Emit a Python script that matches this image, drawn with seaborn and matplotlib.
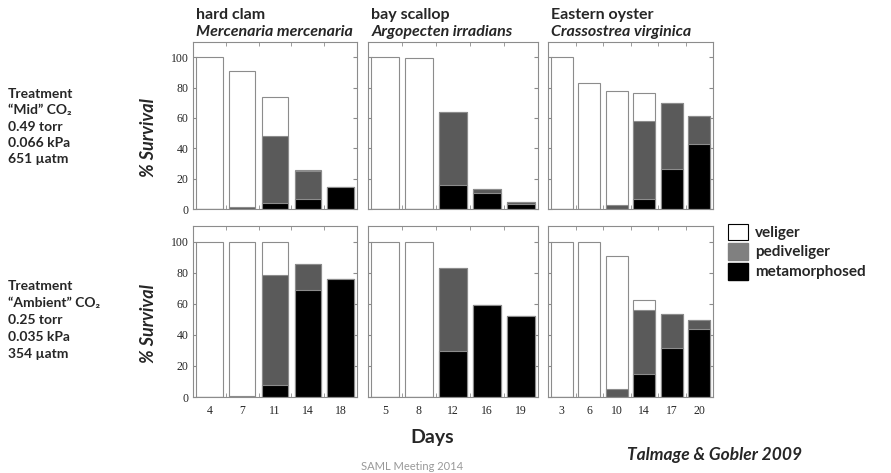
import numpy as np
import matplotlib
matplotlib.use("Agg")
import matplotlib.pyplot as plt
import seaborn as sns
from matplotlib.patches import Patch

sns.set_style("white")
plt.rcParams['font.family'] = ['Lato', 'DejaVu Sans']

# values (% survival per stage, per sampling day)
clam_days = ["4", "7", "11", "14", "18"]
scallop_days = ["5", "8", "12", "16", "19"]
oyster_days = ["3", "6", "10", "14", "17", "20"]

mid_clam_met = [0, 0, 3.7, 6.4, 14.3]
mid_clam_ped = [0, 1.5, 44.7, 18.4, 0]
mid_clam_vel = [100, 89.7, 25.2, 0.9, 0]

mid_scallop_met = [0, 0, 15.6, 10.4, 3.3]
mid_scallop_ped = [0, 0, 48.2, 2.9, 1.6]
mid_scallop_vel = [100, 99.5, 0, 0, 0]

mid_oyster_met = [0, 0, 0, 6.7, 26.4, 42.7]
mid_oyster_ped = [0, 0, 2.7, 51.1, 43.6, 18.4]
mid_oyster_vel = [100, 82.7, 74.9, 18.9, 0, 0]

amb_clam_met = [0, 0, 7.5, 68.8, 75.7]
amb_clam_ped = [0, 0.7, 71.0, 16.8, 0]
amb_clam_vel = [100, 99.3, 21.5, 0, 0]

amb_scallop_met = [0, 0, 29.6, 59.5, 52.2]
amb_scallop_ped = [0, 0, 53.3, 0, 0]
amb_scallop_vel = [100, 100, 0, 0, 0]

amb_oyster_met = [0, 0, 0, 15.0, 31.7, 43.9]
amb_oyster_ped = [0, 0, 4.9, 41.1, 21.8, 5.4]
amb_oyster_vel = [100, 100, 85.5, 6.4, 0, 0]

panels = [
    [(clam_days, mid_clam_met, mid_clam_ped, mid_clam_vel),
     (scallop_days, mid_scallop_met, mid_scallop_ped, mid_scallop_vel),
     (oyster_days, mid_oyster_met, mid_oyster_ped, mid_oyster_vel)],
    [(clam_days, amb_clam_met, amb_clam_ped, amb_clam_vel),
     (scallop_days, amb_scallop_met, amb_scallop_ped, amb_scallop_vel),
     (oyster_days, amb_oyster_met, amb_oyster_ped, amb_oyster_vel)],
]
common = ["hard clam", "bay scallop", "Eastern oyster"]
latin = ["Mercenaria mercenaria", "Argopecten irradians", "Crassostrea virginica"]

fig = plt.figure(figsize=(8.91, 4.73), dpi=100)
W, H = 891, 473
rows_px = [(42, 209), (226, 397)]
cols_px = [(193, 357), (368, 538), (548, 713)]

edge = "#8c8c8c"
for r, (y0, y1) in enumerate(rows_px):
    for c, (x0, x1) in enumerate(cols_px):
        ax = fig.add_axes([x0 / W, 1 - y1 / H, (x1 - x0) / W, (y1 - y0) / H])
        days, met, ped, vel = panels[r][c]
        met = np.array(met)
        ped_top = met + np.array(ped)
        total = ped_top + np.array(vel)
        for vals, col in [(total, "white"), (ped_top, "#5a5a5a"), (met, "black")]:
            sns.barplot(x=days, y=vals, order=days, color=col, edgecolor=edge,
                        linewidth=0.8, width=0.8, saturation=1, ax=ax)
        n = len(days)
        ax.set_xlim(-0.5, n - 0.5)
        ax.set_ylim(0, 110)
        ax.set_yticks([0, 20, 40, 60, 80, 100])
        ax.set_xticks(np.arange(n))
        ax.set_xticks(np.arange(n - 1) + 0.5, minor=True)
        ax.tick_params(axis="x", which="major", length=0, pad=6)
        ax.tick_params(axis="x", which="minor", length=3, direction="in",
                       top=True, bottom=True, color=edge)
        ax.tick_params(axis="y", length=3, direction="in", left=True, right=True,
                       color=edge, pad=3)
        for s in ax.spines.values():
            s.set_color(edge)
            s.set_linewidth(0.8)
        for lab in ax.get_xticklabels() + ax.get_yticklabels():
            lab.set_fontfamily("Liberation Serif")
            lab.set_fontsize(8.5)
        if c > 0:
            ax.set_yticklabels([])
        if r == 0:
            ax.set_xticklabels([])
            ax.text(0.02, 1.14, common[c], transform=ax.transAxes,
                    fontsize=11.5, fontweight="bold", va="baseline")
            ax.text(0.02, 1.035, latin[c], transform=ax.transAxes,
                    fontsize=11.5, fontweight="bold", style="italic", va="baseline")
        ax.set_xlabel("")
        ax.set_ylabel("")

# left-hand treatment labels
mid_lines = ["Treatment", "\u201cMid\u201d CO\u2082", "0.49 torr", "0.066 kPa", "651 \u00b5atm"]
amb_lines = ["Treatment", "\u201cAmbient\u201d CO\u2082", "0.25 torr", "0.035 kPa", "354 \u00b5atm"]
for lines, ys in [(mid_lines, [94, 110, 127, 143, 159]), (amb_lines, [286, 303, 320, 337, 354])]:
    for txt, y in zip(lines, ys):
        fig.text(8 / W, 1 - y / H, txt, fontsize=10, fontweight="bold", va="center",
                 family=["Lato", "DejaVu Sans"])

for yc in [138, 324]:
    fig.text(149 / W, 1 - yc / H, "% Survival", rotation=90, fontsize=13,
             fontweight="bold", style="italic", ha="center", va="center")

handles = [Patch(facecolor="white", edgecolor="black", linewidth=0.8),
           Patch(facecolor="#808080", edgecolor="#808080"),
           Patch(facecolor="black", edgecolor="black")]
leg = fig.legend(handles, ["veliger", "pediveliger", "metamorphosed"],
                 loc="upper left", bbox_to_anchor=(722 / W, 1 - 218 / H),
                 frameon=False, handlelength=1.5, handleheight=1.5,
                 handletextpad=0.5, labelspacing=0.2, borderaxespad=0)
for t in leg.get_texts():
    t.set_fontsize(11)
    t.set_fontweight("bold")

fig.text(432 / W, 1 - 437 / H, "Days", fontsize=14, fontweight="bold",
         ha="center", va="center")
fig.text(715 / W, 1 - 455 / H, "Talmage & Gobler 2009", fontsize=12.5,
         fontweight="bold", style="italic", ha="center", va="center")
fig.text(412 / W, 1 - 466 / H, "SAML Meeting 2014", fontsize=8, color="#999999",
         ha="center", va="center")

fig.savefig("out.png", dpi=100)
